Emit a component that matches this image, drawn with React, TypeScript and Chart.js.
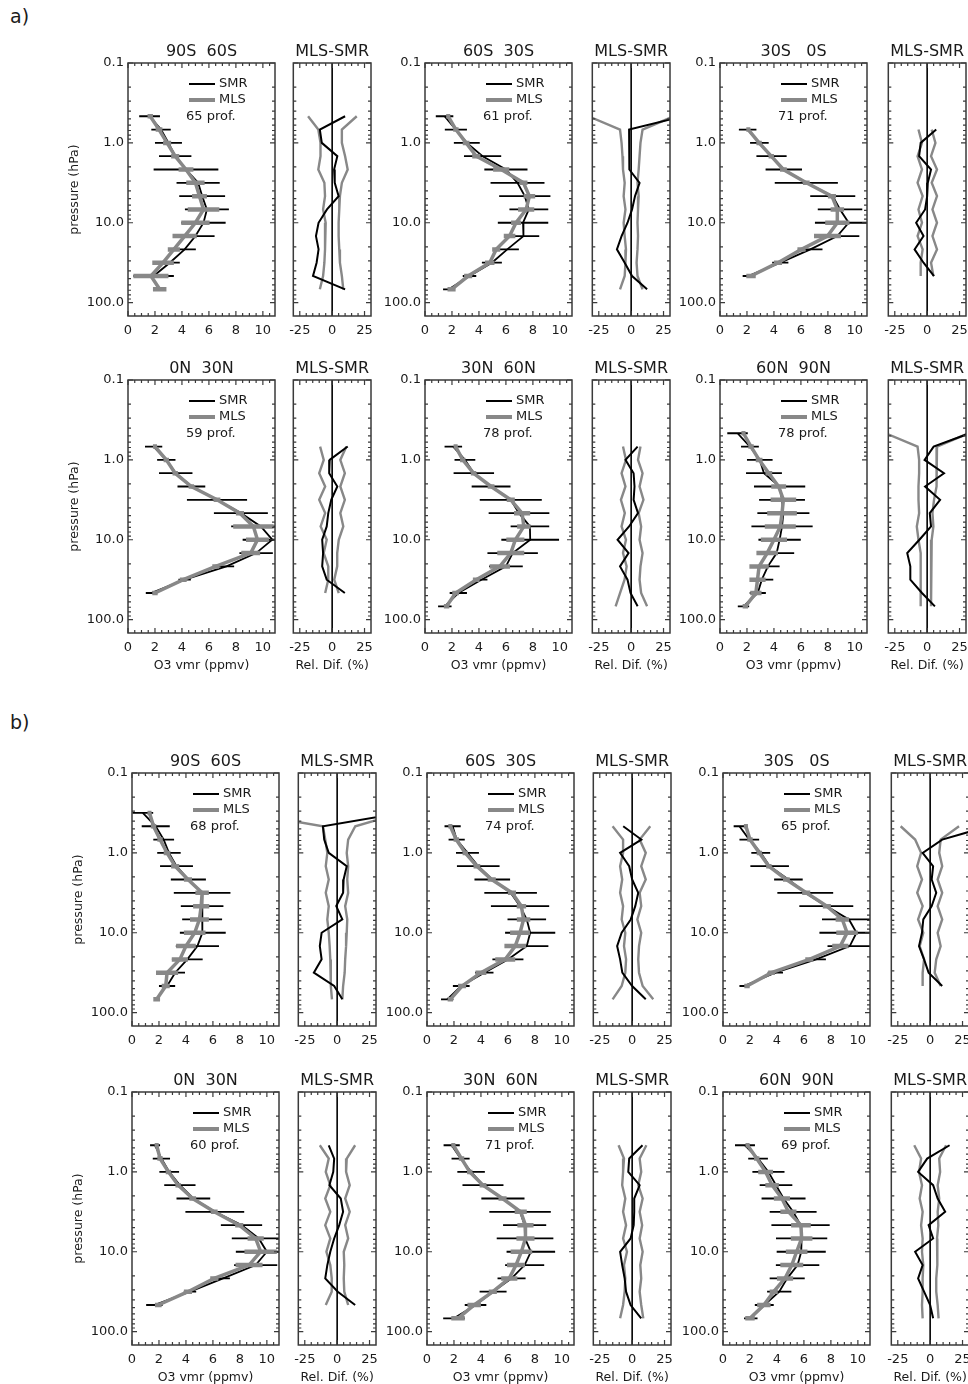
import React, { useEffect, useRef } from 'react';
import { Chart, registerables } from 'chart.js';

Chart.register(...registerables);

const FONT = 'DejaVu Sans';
Chart.defaults.font.family = FONT;

type Num = number | null;

// ---------- axes ----------
// pressure levels (hPa), 6 per decade, from 0.316 to 68.1 hPa
const LEVELS: number[] = [0.3162, 0.4642, 0.6813, 1.0, 1.468, 2.154, 3.162, 4.642, 6.813, 10.0, 14.68, 21.54, 31.62, 46.42, 68.13];
const P_TOP = 0.1;
const P_BOTTOM = 147;
const VMR_MIN = 0;
const VMR_MAX = 10.9;
const DIF_MIN = -30;
const DIF_MAX = 30;
const ZERO_X = 0;

const VMR_TICKS = [0, 2, 4, 6, 8, 10];
const VMR_TICK_LABELS = ['0', '2', '4', '6', '8', '10'];
const VMR_MINOR = [0.5, 1, 1.5, 2.5, 3, 3.5, 4.5, 5, 5.5, 6.5, 7, 7.5, 8.5, 9, 9.5, 10.5];
const DIF_TICKS = [-25, 0, 25];
const DIF_TICK_LABELS = ['-25', '0', '25'];
const DIF_MINOR = [-20, -15, -10, -5, 5, 10, 15, 20];
const P_TICKS = [0.1, 1, 10, 100];
const P_TICK_LABELS = ['0.1', '1.0', '10.0', '100.0'];
const P_MINOR = [0.2, 0.3, 0.4, 0.5, 0.6, 0.7, 0.8, 0.9, 2, 3, 4, 5, 6, 7, 8, 9, 20, 30, 40, 50, 60, 70, 80, 90];

const TITLES = ['90S  60S', '60S  30S', '30S   0S', '0N  30N', '30N  60N', '60N  90N'];
const DIFF_TITLE = 'MLS-SMR';
const SMR_NAME = 'SMR';
const MLS_NAME = 'MLS';
const VMR_AXIS_TITLE = 'O3 vmr (ppmv)';
const DIF_AXIS_TITLE = 'Rel. Dif. (%)';
const P_AXIS_TITLE = 'pressure (hPa)';
const PROF_A = [65, 61, 71, 59, 78, 78];
const PROF_B = [68, 74, 65, 60, 71, 69];

// ---------- section a ----------
const A1_SMR: Num[] = [null, 1.6, 2.45, 3.0, 3.5, 4.3, 5.2, 5.5, 5.85, 5.6, 5.0, 4.2, 3.1, 1.9, null];
const A1_SMR_ERR: Num[] = [null, 0.77, 0.72, 1.0, 1.2, 2.4, 1.6, 1.7, 1.63, 1.64, 1.42, 0.83, 0.74, 1.5, null];
const A1_MLS: Num[] = [null, 1.65, 2.3, 2.9, 3.5, 4.3, 5.0, 5.3, 5.6, 5.0, 4.2, 3.4, 2.6, 1.7, 2.35];
const A1_MLS_ERR: Num[] = [null, 0.2, 0.25, 0.3, 0.3, 0.55, 0.68, 0.55, 1.17, 1.05, 0.9, 0.45, 0.8, 1.3, 0.5];
const A1_DIF: Num[] = [null, 10, -9.5, -8, 4, 1.5, 2, 5, -4, -10.5, -12.5, -10.5, -12, -14.8, 10];
const A1_DLO: Num[] = [null, -18.6, -10.7, -9, -9, -10.7, -6, -5.5, -7, -5, -5.5, -5.5, -6, -7, -9.5];
const A1_DHI: Num[] = [null, 19, 7.5, 7.5, 10, 12, 7.5, 6, 5.5, 5, 5, 5.5, 6, 7.5, 8.6];

const A2_SMR: Num[] = [null, 1.45, 2.29, 3.1, 4.27, 6.0, 6.86, 7.4, 7.7, 7.27, 7.3, 6.1, 4.96, 3.3, 1.77];
const A2_SMR_ERR: Num[] = [null, 0.65, 0.82, 0.96, 1.38, 1.6, 2.0, 1.9, 1.44, 1.87, 1.17, 0.86, 0.74, 0.5, 0.43];
const A2_MLS: Num[] = [null, 1.72, 2.29, 3.05, 3.8, 5.65, 7.3, 7.74, 7.5, 6.75, 6.27, 5.28, 4.8, 3.2, 1.97];
const A2_MLS_ERR: Num[] = [null, 0.15, 0.2, 0.25, 0.3, 0.6, 0.3, 0.43, 0.6, 0.37, 0.43, 0.3, 0.35, 0.3, 0.3];
const A2_DIF: Num[] = [null, 40, -1.6, -1.6, -1.6, -1, 6.5, 3, 0.7, -2.8, -7.4, -11, -5, 0.7, 12.3];
const A2_DLO: Num[] = [null, -33, -8.6, -7.4, -6.7, -6.3, -5, -5.8, -4.4, -5.8, -5, -4, -4.4, -5, -8.6];
const A2_DHI: Num[] = [null, 33, 8.8, 7.2, 6.5, 5.8, 4.9, 5.8, 5.3, 4.9, 5.3, 4.9, 4.2, 4.9, 8.8];

const A3_SMR: Num[] = [null, null, 2.05, 2.92, 3.82, 4.73, 6.4, 8.36, 8.9, 9.54, 8.7, 6.7, 4.47, 2.1, null];
const A3_SMR_ERR: Num[] = [null, null, 0.65, 0.69, 1.12, 1.35, 2.34, 1.67, 1.65, 2.5, 1.63, 0.9, 0.6, 0.42, null];
const A3_MLS: Num[] = [null, null, 2.1, 2.9, 3.8, 4.7, 6.4, 8.3, 8.7, 8.7, 7.97, 6.04, 4.3, 2.3, null];
const A3_MLS_ERR: Num[] = [null, null, 0.15, 0.2, 0.2, 0.25, 0.25, 0.3, 0.5, 0.9, 1.0, 0.3, 0.3, 0.35, null];
const A3_DIF: Num[] = [null, null, 7, -5, -6.2, 3, 0.5, 0, -1.6, -8.5, -2.8, -9.7, -2.8, 5.3, null];
const A3_DLO: Num[] = [null, null, -6.7, -4, -7.4, -4, -7.4, -3.5, -6.7, -4, -7.4, -3.5, -5, -5, null];
const A3_DHI: Num[] = [null, null, 3.5, 6.4, 3, 7.6, 3.5, 7.6, 4.1, 7.6, 4.1, 7.6, 3, 4.8, null];

const A4_SMR: Num[] = [null, null, 1.9, 2.84, 3.54, 4.7, 6.6, 8.37, 9.85, 10.7, 9.5, 7.3, 4.2, 1.72, null];
const A4_SMR_ERR: Num[] = [null, null, 0.64, 0.68, 1.24, 1.03, 2.23, 2.0, 2.2, 2.2, 1.24, 0.57, 0.46, 0.4, null];
const A4_MLS: Num[] = [null, null, 2.0, 2.84, 3.5, 4.7, 6.6, 8.3, 9.3, 9.6, 9.1, 6.5, 4.1, 2.0, null];
const A4_MLS_ERR: Num[] = [null, null, 0.15, 0.2, 0.2, 0.2, 0.25, 0.3, 1.5, 0.85, 0.7, 0.25, 0.25, 0.2, null];
const A4_DIF: Num[] = [null, null, 12, -1.9, -2.3, 4, -0.7, -3, -4.2, -7.7, -7, -7.7, -4.2, 9.8, null];
const A4_DLO: Num[] = [null, null, -9.3, -6.5, -10, -5.4, -10, -5.4, -8.9, -4.2, -6.5, -3, -3, -5.4, null];
const A4_DHI: Num[] = [null, null, 11, 6.3, 9.8, 6.3, 9.8, 6.3, 8.6, 5.1, 3.9, 3.9, 1.6, 5.1, null];

const A5_SMR: Num[] = [null, null, 2.1, 2.96, 3.62, 4.9, 6.36, 6.97, 7.78, 7.8, 6.5, 6.0, 4.18, 2.47, 1.47];
const A5_SMR_ERR: Num[] = [null, null, 0.65, 0.77, 1.5, 1.44, 2.3, 2.25, 1.43, 2.14, 1.87, 1.25, 0.45, 0.64, 0.5];
const A5_MLS: Num[] = [null, null, 2.27, 2.8, 3.6, 4.9, 6.36, 7.2, 7.33, 6.7, 6.36, 5.55, 3.8, 2.27, 1.6];
const A5_MLS_ERR: Num[] = [null, null, 0.15, 0.2, 0.2, 0.25, 0.3, 0.6, 0.5, 0.67, 1.0, 0.75, 0.25, 0.25, 0.2];
const A5_DIF: Num[] = [null, null, 5, -4.4, 1.9, 2.6, 1.9, 5.3, -1.6, -10.5, -2, -8.6, -2.8, -0.5, 5];
const A5_DLO: Num[] = [null, null, -6.3, -4, -7.4, -4.4, -7.9, -4.9, -7.4, -4, -6.3, -3.5, -5.1, -8.6, -12];
const A5_DHI: Num[] = [null, null, 7.2, 5.3, 8.8, 6.5, 9.5, 5.8, 7.7, 6.5, 8.8, 7.2, 6.5, 7.7, 12.3];

const A6_SMR: Num[] = [null, 1.3, 2.22, 2.95, 3.26, 4.42, 4.6, 4.7, 4.6, 4.42, 4.2, 3.55, 3.1, 2.8, 1.74];
const A6_SMR_ERR: Num[] = [null, 0.76, 0.66, 0.95, 1.33, 1.9, 1.7, 1.93, 2.27, 1.57, 1.3, 0.87, 0.85, 0.6, 0.42];
const A6_MLS: Num[] = [null, 1.74, 2.3, 2.9, 3.62, 4.35, 4.7, 4.6, 4.47, 4.0, 3.5, 2.9, 2.78, 2.66, 1.88];
const A6_MLS_ERR: Num[] = [null, 0.15, 0.2, 0.25, 0.25, 0.55, 0.95, 1.1, 1.15, 0.97, 0.8, 0.72, 0.6, 0.42, 0.2];
const A6_DIF: Num[] = [null, 33, 5, -2, 13, -1.6, 10, 2, 3, -6, -15.4, -13, -13, -4, 6];
const A6_DLO: Num[] = [null, -32, -7.4, -6.2, -6.2, -6.7, -6.7, -6.2, -8, -6.7, -5, -5, -5, -5, -5];
const A6_DHI: Num[] = [null, 32, 7.6, 7.1, 7.6, 7.1, 5.3, 4.1, 4.8, 3.5, 3, 3, 3, 3, 3];

// ---------- section b ----------
const B1_SMR: Num[] = [0.8, 1.76, 2.35, 2.74, 3.3, 4.18, 5.2, 5.2, 5.2, 5.25, 4.85, 4.1, 3.2, 2.6, null];
const B1_SMR_ERR: Num[] = [0.77, 1.04, 0.77, 0.87, 1.22, 1.3, 2.1, 1.58, 1.48, 1.7, 1.6, 1.14, 0.73, 0.6, null];
const B1_MLS: Num[] = [1.3, 1.6, 2.08, 2.6, 3.2, 4.15, 5.2, 5.13, 5.0, 4.65, 4.0, 3.55, 2.6, 2.5, 1.83];
const B1_MLS_ERR: Num[] = [0.15, 0.2, 0.2, 0.25, 0.3, 0.3, 0.5, 0.6, 0.7, 0.8, 0.73, 0.6, 0.82, 0.3, 0.25];
const B1_DIF: Num[] = [50, -11, -10, -6.5, 7.4, 5, 4.6, -0.7, 4, -12, -13.4, -12, -18, -2.3, 4];
const B1_DLO: Num[] = [-70, -11, -9.2, -7.6, -8.8, -6.5, -8.8, -6.5, -7.6, -6.5, -5.8, -5.3, -4.9, -4.9, -4];
const B1_DHI: Num[] = [50, 14, 8.5, 7.4, 8.5, 7.8, 8.5, 6.2, 7.8, 7.4, 6.9, 6.2, 5.8, 4.6, 4];

const B2_SMR: Num[] = [null, 1.9, 2.2, 3.0, 3.8, 4.84, 6.2, 6.9, 7.4, 7.65, 7.4, 6.0, 4.25, 2.54, 1.5];
const B2_SMR_ERR: Num[] = [null, 0.6, 0.6, 0.85, 1.58, 1.32, 1.95, 2.16, 1.43, 1.86, 1.6, 1.15, 0.68, 0.62, 0.46];
const B2_MLS: Num[] = [null, 1.73, 2.17, 2.84, 3.7, 4.8, 6.3, 7.0, 7.16, 6.9, 6.54, 5.8, 4.0, 2.6, 1.73];
const B2_MLS_ERR: Num[] = [null, 0.15, 0.2, 0.2, 0.25, 0.3, 0.3, 0.35, 0.5, 0.74, 0.8, 0.74, 0.4, 0.3, 0.2];
const B2_DIF: Num[] = [null, -6.9, 7.1, -9.3, -2.3, 0, 4.7, 2.4, -1.1, -8.1, -11.6, -9.3, -7.6, 0, 10.5];
const B2_DLO: Num[] = [null, -15.1, -7, -7, -9.3, -7.7, -9.3, -7, -8.1, -5.3, -6.3, -4.7, -5.3, -8.1, -15.1];
const B2_DHI: Num[] = [null, 14, 5.8, 10.5, 7, 10.5, 5.8, 7, 4, 7, 5.3, 4.7, 5.3, 8.1, 16.3];

const B3_SMR: Num[] = [null, 1.22, 1.95, 2.8, 3.46, 4.85, 6.1, 7.66, 9.34, 9.9, 9.4, 6.9, 3.88, 1.56, null];
const B3_SMR_ERR: Num[] = [null, 0.43, 0.73, 0.7, 1.43, 1.06, 2.07, 2.0, 2.0, 2.75, 1.65, 0.73, 0.57, 0.34, null];
const B3_MLS: Num[] = [null, 1.7, 2.0, 2.7, 3.4, 4.7, 6.17, 7.7, 8.85, 9.2, 8.7, 6.4, 3.6, 1.78, null];
const B3_MLS_ERR: Num[] = [null, 0.15, 0.2, 0.2, 0.2, 0.25, 0.3, 0.3, 0.5, 0.8, 0.6, 0.3, 0.25, 0.2, null];
const B3_DIF: Num[] = [null, 45, 9.3, -5.8, 2.3, 1.2, 4.7, 1.2, -5.3, -6.3, -8.6, -4.7, -1.2, 9.3, null];
const B3_DLO: Num[] = [null, -22.8, -11.6, -7, -10, -6.3, -10, -5.8, -9.3, -5.3, -8.1, -4.7, -5.8, -5.8, null];
const B3_DHI: Num[] = [null, 22.3, 8.1, 7, 9.3, 5.8, 9.3, 5.8, 9.3, 5.8, 8.1, 4.7, 3.5, 8.1, null];

const B4_SMR: Num[] = [null, 1.71, 2.18, 2.76, 3.55, 4.55, 6.14, 8.12, 9.4, 10.0, 9.17, 6.75, 4.3, 1.66, null];
const B4_SMR_ERR: Num[] = [null, 0.37, 0.64, 0.73, 1.16, 1.25, 2.18, 1.53, 2.0, 2.3, 1.6, 0.51, 0.46, 0.61, null];
const B4_MLS: Num[] = [null, 1.83, 2.08, 2.7, 3.42, 4.5, 6.1, 7.95, 9.17, 9.54, 8.68, 6.1, 4.15, 1.95, null];
const B4_MLS_ERR: Num[] = [null, 0.15, 0.2, 0.2, 0.2, 0.25, 0.25, 0.3, 0.6, 1.2, 1.0, 0.3, 0.3, 0.25, null];
const B4_DIF: Num[] = [null, -6.5, -2.3, -3, -6, 2.8, 4.6, 1.6, -2.3, -5.3, -7.6, -9.2, 0.5, 13.9, null];
const B4_DLO: Num[] = [null, -13.4, -6.5, -8.8, -5.3, -9.2, -5.3, -9.2, -5.3, -8.3, -5.3, -4.2, -4.2, -8.8, null];
const B4_DHI: Num[] = [null, 13.9, 7.4, 6.9, 9.7, 6.2, 9.7, 6.2, 8.5, 5.1, 5.5, 5.1, 5.5, 8.5, null];

const B5_SMR: Num[] = [null, 1.83, 2.49, 3.27, 4.15, 5.63, 6.9, 7.24, 7.27, 7.7, 7.24, 6.27, 4.9, 3.6, 2.0];
const B5_SMR_ERR: Num[] = [null, 0.6, 0.67, 1.02, 1.52, 1.6, 2.28, 1.6, 2.1, 1.8, 1.45, 1.04, 1.0, 0.8, 0.8];
const B5_MLS: Num[] = [null, 1.95, 2.56, 3.17, 4.15, 5.6, 6.95, 7.3, 7.3, 7.0, 6.6, 6.1, 4.88, 3.5, 2.3];
const B5_MLS_ERR: Num[] = [null, 0.15, 0.2, 0.2, 0.25, 0.3, 0.45, 0.6, 0.67, 0.8, 0.67, 0.6, 0.3, 0.5, 0.5];
const B5_DIF: Num[] = [null, 8, -2.3, -3, 5.8, 1.6, 1.6, 1.2, -1.2, -9.3, -7.7, -5.8, -4.7, -1.2, 7];
const B5_DLO: Num[] = [null, -10.5, -6.3, -7, -7.7, -5.3, -7, -4.7, -7, -4, -6.3, -5.3, -5.8, -7, -9.3];
const B5_DHI: Num[] = [null, 11, 5.8, 7, 4.7, 8.1, 5.8, 7.7, 5.8, 8.1, 6.3, 7, 5.8, 7, 8.6];

const B6_SMR: Num[] = [null, 1.63, 2.6, 3.37, 3.93, 4.49, 5.2, 5.75, 5.83, 5.8, 5.53, 4.76, 4.17, 3.06, 2.06];
const B6_SMR_ERR: Num[] = [null, 0.74, 0.73, 1.19, 1.21, 1.63, 1.74, 2.16, 1.9, 1.82, 1.61, 1.3, 0.9, 0.7, 0.5];
const B6_MLS: Num[] = [null, 1.82, 2.5, 3.16, 3.64, 4.37, 4.85, 5.78, 5.83, 5.46, 5.1, 4.6, 3.76, 3.03, 2.0];
const B6_MLS_ERR: Num[] = [null, 0.15, 0.2, 0.55, 0.5, 0.6, 0.6, 0.73, 0.8, 0.8, 0.85, 0.6, 0.3, 0.5, 0.35];
const B6_DIF: Num[] = [null, 15, -2.3, -9.3, 2.3, 5.8, 11.6, -1.2, 2.3, -11.6, -5.8, -9.3, -4.7, 0, 2.3];
const B6_DLO: Num[] = [null, -12.3, -7, -8.6, -6.3, -8.1, -5.8, -7, -5.8, -6.3, -5.3, -5.8, -5.8, -6.3, -5.8];
const B6_DHI: Num[] = [null, 12.3, 7, 7.7, 5.8, 7, 5.8, 6.3, 5.3, 5.8, 5.3, 4.7, 4.7, 5.8, 6.5];

// ---------- styles / layout ----------
const SMR_COLOR = '#000000';
const MLS_COLOR = '#888888';
const AXIS_COLOR = '#3a3a3a';
const TEXT_COLOR = '#1a1a1a';

const BOX_H = 253;
const MAIN_W = 147;
const DIFF_W = 87;
const PAD_T = 26;
const PAD_R = 10;
const PAD_B_TICKS = 28;
const PAD_B_TITLE = 40;
const PAD_L_TITLE = 61;
const PAD_L_LABELS = 46;
const PAD_L_DIFF = 2;

function profilePoints(values: Num[]) {
  const pts: { x: number; y: number }[] = [];
  values.forEach((v, i) => {
    if (v !== null) pts.push({ x: v, y: LEVELS[i] });
  });
  return pts;
}

function errorBarPoints(values: Num[], errs: Num[]) {
  const pts: any[] = [];
  values.forEach((v, i) => {
    const e = errs[i];
    if (v !== null && e !== null) {
      pts.push({ x: v - e, y: LEVELS[i] }, { x: v + e, y: LEVELS[i] }, { x: null, y: null });
    }
  });
  return pts;
}

function framePlugin(info: { xMajor: number[]; xMinor: number[]; title: string; prof?: string }) {
  return {
    id: 'frame',
    afterDatasetsDraw(chart: any) {
      const { ctx, chartArea: a } = chart;
      const xs = chart.scales.x;
      const ys = chart.scales.y;
      ctx.save();
      ctx.strokeStyle = AXIS_COLOR;
      ctx.lineWidth = 1.2;
      ctx.beginPath();
      const xt = (vals: number[], len: number) =>
        vals.forEach((v) => {
          const px = xs.getPixelForValue(v);
          ctx.moveTo(px, a.bottom);
          ctx.lineTo(px, a.bottom - len);
          ctx.moveTo(px, a.top);
          ctx.lineTo(px, a.top + len);
        });
      const yt = (vals: number[], len: number) =>
        vals.forEach((v) => {
          const py = ys.getPixelForValue(v);
          ctx.moveTo(a.left, py);
          ctx.lineTo(a.left + len, py);
          ctx.moveTo(a.right, py);
          ctx.lineTo(a.right - len, py);
        });
      xt(info.xMajor, 5);
      xt(info.xMinor, 3);
      yt(P_TICKS, 5);
      yt(P_MINOR, 3);
      ctx.stroke();
      ctx.lineWidth = 1.5;
      ctx.strokeRect(a.left, a.top, a.right - a.left, a.bottom - a.top);

      ctx.fillStyle = TEXT_COLOR;
      ctx.font = `16px ${FONT}`;
      ctx.textAlign = 'center';
      ctx.textBaseline = 'middle';
      ctx.fillText(info.title, (a.left + a.right) / 2, a.top - 11.5);

      if (info.prof) {
        ctx.lineWidth = 2;
        ctx.strokeStyle = SMR_COLOR;
        ctx.beginPath();
        ctx.moveTo(a.left + 61, a.top + 21);
        ctx.lineTo(a.left + 87, a.top + 21);
        ctx.stroke();
        ctx.lineWidth = 4;
        ctx.strokeStyle = MLS_COLOR;
        ctx.beginPath();
        ctx.moveTo(a.left + 61, a.top + 37);
        ctx.lineTo(a.left + 87, a.top + 37);
        ctx.stroke();
        ctx.font = `13px ${FONT}`;
        ctx.textAlign = 'left';
        ctx.fillText(SMR_NAME, a.left + 91, a.top + 21);
        ctx.fillText(MLS_NAME, a.left + 91, a.top + 37);
        ctx.fillText(info.prof, a.left + 58, a.top + 54);
      }
      ctx.restore();
    },
  };
}

function xScaleOpts(min: number, max: number, ticks: number[], labels: string[], padB: number, title: string | null) {
  return {
    type: 'linear',
    position: 'bottom',
    min,
    max,
    afterBuildTicks: (s: any) => {
      s.ticks = ticks.map((v) => ({ value: v }));
    },
    afterFit: (s: any) => {
      s.height = padB;
    },
    grid: { display: false, drawTicks: false },
    border: { display: false },
    ticks: {
      autoSkip: false,
      maxRotation: 0,
      padding: 7,
      color: TEXT_COLOR,
      font: { size: 13 },
      callback: (_v: any, i: number) => labels[i],
    },
    title: { display: !!title, text: title || '', padding: 0, color: TEXT_COLOR, font: { size: 12.5 } },
  };
}

function yScaleOpts(padL: number, showLabels: boolean, title: string | null) {
  return {
    type: 'logarithmic',
    position: 'left',
    min: P_TOP,
    max: P_BOTTOM,
    reverse: true,
    afterBuildTicks: (s: any) => {
      s.ticks = P_TICKS.map((v) => ({ value: v }));
    },
    afterFit: (s: any) => {
      s.width = padL;
    },
    grid: { display: false, drawTicks: false },
    border: { display: false },
    ticks: {
      display: showLabels,
      autoSkip: false,
      padding: 4,
      color: TEXT_COLOR,
      font: { size: 13 },
      callback: (_v: any, i: number) => P_TICK_LABELS[i],
    },
    title: { display: !!title, text: title || '', padding: 0, color: TEXT_COLOR, font: { size: 12.5 } },
  };
}

function baseOptions(scales: any) {
  return {
    responsive: false,
    animation: false,
    events: [],
    layout: { padding: { top: PAD_T, right: PAD_R, left: 0, bottom: 0 } },
    plugins: { legend: { display: false }, tooltip: { enabled: false } },
    elements: { point: { radius: 0, hoverRadius: 0 }, line: { tension: 0 } },
    scales,
  };
}

function line(data: any[], color: string, width: number) {
  return { data, showLine: true, borderColor: color, backgroundColor: color, borderWidth: width, pointRadius: 0, pointHoverRadius: 0 };
}

function mainConfig(p: {
  smr: Num[]; smrErr: Num[]; mls: Num[]; mlsErr: Num[]; title: string; prof: number;
  padL: number; padB: number; yTitle: boolean; xTitle: boolean;
}): any {
  return {
    type: 'scatter',
    data: {
      datasets: [
        line(profilePoints(p.mls), MLS_COLOR, 3.5),
        line(errorBarPoints(p.mls, p.mlsErr), MLS_COLOR, 4.5),
        line(profilePoints(p.smr), SMR_COLOR, 1.8),
        line(errorBarPoints(p.smr, p.smrErr), SMR_COLOR, 1.8),
      ],
    },
    options: baseOptions({
      x: xScaleOpts(VMR_MIN, VMR_MAX, VMR_TICKS, VMR_TICK_LABELS, p.padB, p.xTitle ? VMR_AXIS_TITLE : null),
      y: yScaleOpts(p.padL, true, p.yTitle ? P_AXIS_TITLE : null),
    }),
    plugins: [framePlugin({ xMajor: VMR_TICKS, xMinor: VMR_MINOR, title: p.title, prof: `${p.prof} prof.` })],
  };
}

function diffConfig(p: { dif: Num[]; lo: Num[]; hi: Num[]; padB: number; xTitle: boolean }): any {
  return {
    type: 'scatter',
    data: {
      datasets: [
        line(profilePoints(p.dif), SMR_COLOR, 2),
        line([{ x: ZERO_X, y: P_TOP }, { x: ZERO_X, y: P_BOTTOM }], SMR_COLOR, 1.6),
        line(profilePoints(p.lo), MLS_COLOR, 2.4),
        line(profilePoints(p.hi), MLS_COLOR, 2.4),
      ],
    },
    options: baseOptions({
      x: xScaleOpts(DIF_MIN, DIF_MAX, DIF_TICKS, DIF_TICK_LABELS, p.padB, p.xTitle ? DIF_AXIS_TITLE : null),
      y: yScaleOpts(PAD_L_DIFF, false, null),
    }),
    plugins: [framePlugin({ xMajor: DIF_TICKS, xMinor: DIF_MINOR, title: DIFF_TITLE })],
  };
}

function PlotCanvas(props: { left: number; top: number; width: number; height: number; build: () => any }) {
  const ref = useRef<HTMLCanvasElement | null>(null);
  useEffect(() => {
    if (!ref.current) return;
    const chart = new Chart(ref.current, props.build());
    return () => chart.destroy();
  }, []);
  return (
    <canvas
      ref={ref}
      width={props.width}
      height={props.height}
      style={{ position: 'absolute', left: props.left, top: props.top, width: props.width, height: props.height }}
    />
  );
}

const SECTIONS = [
  {
    label: 'a)', labelTop: 5, rowTops: [63, 380], mainLeft: [128, 425, 720], diffLeft: [284, 583, 879], profs: PROF_A,
    smr: [A1_SMR, A2_SMR, A3_SMR, A4_SMR, A5_SMR, A6_SMR],
    smrErr: [A1_SMR_ERR, A2_SMR_ERR, A3_SMR_ERR, A4_SMR_ERR, A5_SMR_ERR, A6_SMR_ERR],
    mls: [A1_MLS, A2_MLS, A3_MLS, A4_MLS, A5_MLS, A6_MLS],
    mlsErr: [A1_MLS_ERR, A2_MLS_ERR, A3_MLS_ERR, A4_MLS_ERR, A5_MLS_ERR, A6_MLS_ERR],
    dif: [A1_DIF, A2_DIF, A3_DIF, A4_DIF, A5_DIF, A6_DIF],
    lo: [A1_DLO, A2_DLO, A3_DLO, A4_DLO, A5_DLO, A6_DLO],
    hi: [A1_DHI, A2_DHI, A3_DHI, A4_DHI, A5_DHI, A6_DHI],
  },
  {
    label: 'b)', labelTop: 711, rowTops: [773, 1092], mainLeft: [132, 427, 723], diffLeft: [289, 584, 882], profs: PROF_B,
    smr: [B1_SMR, B2_SMR, B3_SMR, B4_SMR, B5_SMR, B6_SMR],
    smrErr: [B1_SMR_ERR, B2_SMR_ERR, B3_SMR_ERR, B4_SMR_ERR, B5_SMR_ERR, B6_SMR_ERR],
    mls: [B1_MLS, B2_MLS, B3_MLS, B4_MLS, B5_MLS, B6_MLS],
    mlsErr: [B1_MLS_ERR, B2_MLS_ERR, B3_MLS_ERR, B4_MLS_ERR, B5_MLS_ERR, B6_MLS_ERR],
    dif: [B1_DIF, B2_DIF, B3_DIF, B4_DIF, B5_DIF, B6_DIF],
    lo: [B1_DLO, B2_DLO, B3_DLO, B4_DLO, B5_DLO, B6_DLO],
    hi: [B1_DHI, B2_DHI, B3_DHI, B4_DHI, B5_DHI, B6_DHI],
  },
];

export default function App() {
  const items: React.ReactNode[] = [];
  SECTIONS.forEach((sec, s) => {
    items.push(
      <div key={`lab${s}`} style={{ position: 'absolute', left: 10, top: sec.labelTop, fontSize: 19, fontFamily: FONT, color: TEXT_COLOR, lineHeight: '22px' }}>
        {sec.label}
      </div>
    );
    for (let r = 0; r < 2; r++) {
      for (let c = 0; c < 3; c++) {
        const i = r * 3 + c;
        const top = sec.rowTops[r];
        const padB = r === 1 ? PAD_B_TITLE : PAD_B_TICKS;
        const padL = c === 0 ? PAD_L_TITLE : PAD_L_LABELS;
        items.push(
          <PlotCanvas
            key={`m${s}${i}`}
            left={sec.mainLeft[c] - padL}
            top={top - PAD_T}
            width={padL + MAIN_W + PAD_R}
            height={PAD_T + BOX_H + padB}
            build={() =>
              mainConfig({
                smr: sec.smr[i], smrErr: sec.smrErr[i], mls: sec.mls[i], mlsErr: sec.mlsErr[i],
                title: TITLES[i], prof: sec.profs[i], padL, padB, yTitle: c === 0, xTitle: r === 1,
              })
            }
          />
        );
        items.push(
          <PlotCanvas
            key={`d${s}${i}`}
            left={sec.diffLeft[c] - PAD_L_DIFF}
            top={top - PAD_T}
            width={PAD_L_DIFF + DIFF_W + PAD_R}
            height={PAD_T + BOX_H + padB}
            build={() => diffConfig({ dif: sec.dif[i], lo: sec.lo[i], hi: sec.hi[i], padB, xTitle: r === 1 })}
          />
        );
      }
    }
  });
  return (
    <div style={{ position: 'absolute', left: 0, top: 0, width: 968, height: 1384, overflow: 'hidden', background: '#ffffff' }}>
      {items}
    </div>
  );
}
